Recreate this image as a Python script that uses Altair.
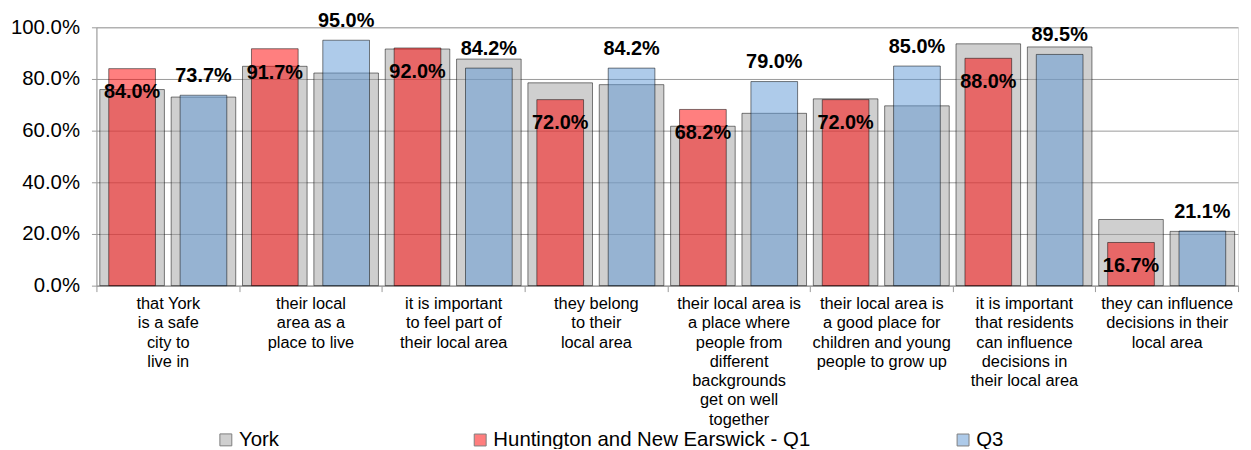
import altair as alt
import pandas as pd

categories = [
    "that York\nis a safe\ncity to\nlive in",
    "their local\narea as a\nplace to live",
    "it is important\nto feel part of\ntheir local area",
    "they belong\nto their\nlocal area",
    "their local area is\na place where\npeople from\ndifferent\nbackgrounds\nget on well\ntogether",
    "their local area is\na good place for\nchildren and young\npeople to grow up",
    "it is important\nthat residents\ncan influence\ndecisions in\ntheir local area",
    "they can influence\ndecisions in their\nlocal area",
]
york_q1 = [75.9, 84.9, 91.6, 78.5, 61.7, 72.3, 93.6, 25.6]
york_q3 = [73.0, 82.3, 87.7, 77.8, 66.7, 69.6, 92.4, 21.0]
hne_q1 = [84.0, 91.7, 92.0, 72.0, 68.2, 72.0, 88.0, 16.7]
hne_q3 = [73.7, 95.0, 84.2, 84.2, 79.0, 85.0, 89.5, 21.1]

YORK = "York"
S_Q1 = "Huntington and New Earswick - Q1"
S_Q3 = "Q3"

rows = []
for i, c in enumerate(categories):
    rows.append({"category": c, "period": "Q1", "series": YORK, "value": york_q1[i]})
    rows.append({"category": c, "period": "Q3", "series": YORK, "value": york_q3[i]})
    rows.append({"category": c, "period": "Q1", "series": S_Q1, "value": hne_q1[i]})
    rows.append({"category": c, "period": "Q3", "series": S_Q3, "value": hne_q3[i]})
df = pd.DataFrame(rows)

FONT = "Liberation Sans"

x = alt.X(
    "category:N",
    sort=categories,
    scale=alt.Scale(paddingInner=0, paddingOuter=0),
    axis=alt.Axis(
        title=None,
        labelAngle=0,
        labelExpr="split(datum.label, '\\n')",
        tickBand="extent",
        grid=False,
        domainColor="#999999",
        tickColor="#999999",
        tickSize=6,
        labelFontSize=16.5,
        labelLineHeight=19.4,
        labelPadding=4,
        labelLimit=400,
        labelColor="black",
        labelFont=FONT,
    ),
)
xo = alt.XOffset("period:N", scale=alt.Scale(domain=["Q1", "Q3"], paddingInner=0, paddingOuter=0))
y = alt.Y(
    "value:Q",
    scale=alt.Scale(domain=[0, 100], nice=False),
    axis=alt.Axis(
        title=None,
        values=[0, 20, 40, 60, 80, 100],
        labelExpr="format(datum.value, '.1f') + '%'",
        domainColor="#999999",
        tickColor="#999999",
        tickSize=5,
        labelPadding=12,
        labelFontSize=20.5,
        labelColor="black",
        labelFont=FONT,
        gridColor="#999999",
        gridWidth=1,
    ),
)

base = alt.Chart(df)

legend_common = dict(
    title=None,
    orient="none",
    legendY=405,
    direction="horizontal",
    symbolType="square",
    symbolSize=144,
    symbolOpacity=0.5,
    symbolStrokeColor="black",
    symbolStrokeWidth=1,
    labelFontSize=20.5,
    labelFont=FONT,
    labelColor="black",
    labelOffset=3,
    padding=0,
    labelLimit=500,
)

grey = base.transform_filter(alt.datum.series == YORK).mark_bar(
    width=65,
    fillOpacity=0.5,
    stroke="black",
    strokeOpacity=0.5,
    strokeWidth=1,
).encode(
    x=x,
    xOffset=xo,
    y=y,
    color=alt.Color(
        "series:N",
        scale=alt.Scale(domain=[YORK], range=["#A0A0A0"]),
        legend=alt.Legend(legendX=120, **legend_common),
    ),
)

colored = base.transform_filter(alt.datum.series != YORK).mark_bar(
    width=47,
    fillOpacity=0.5,
    stroke="black",
    strokeOpacity=0.5,
    strokeWidth=1,
).encode(
    x=x,
    xOffset=xo,
    y=y,
    fill=alt.Fill(
        "series:N",
        scale=alt.Scale(domain=[S_Q1, S_Q3], range=["#FF0000", "#5D97D5"]),
        legend=alt.Legend(legendX=376, columnPadding=143, **legend_common),
    ),
)

text_base = base.transform_filter(alt.datum.series != YORK).transform_calculate(
    label="format(datum.value, '.1f') + '%'"
)
labels_q1 = text_base.transform_filter(alt.datum.period == "Q1").mark_text(
    dy=30, baseline="alphabetic", fontSize=20, fontWeight="bold", font=FONT, color="black"
).encode(x=x, xOffset=xo, y=y, text="label:N")
labels_q3 = text_base.transform_filter(alt.datum.period == "Q3").mark_text(
    dy=-13.5, baseline="alphabetic", fontSize=20, fontWeight="bold", font=FONT, color="black"
).encode(x=x, xOffset=xo, y=y, text="label:N")

chart = (
    alt.layer(grey, colored, labels_q1, labels_q3)
    .properties(
        width=1149,
        height=260,
        autosize=alt.AutoSizeParams(type="none"),
        padding={"left": 89, "top": 18, "right": 5, "bottom": 163},
    )
    .configure_view(stroke="#999999")
    .configure(font=FONT)
)

chart.save("out.html", embed_options={"renderer": "svg", "actions": False})
